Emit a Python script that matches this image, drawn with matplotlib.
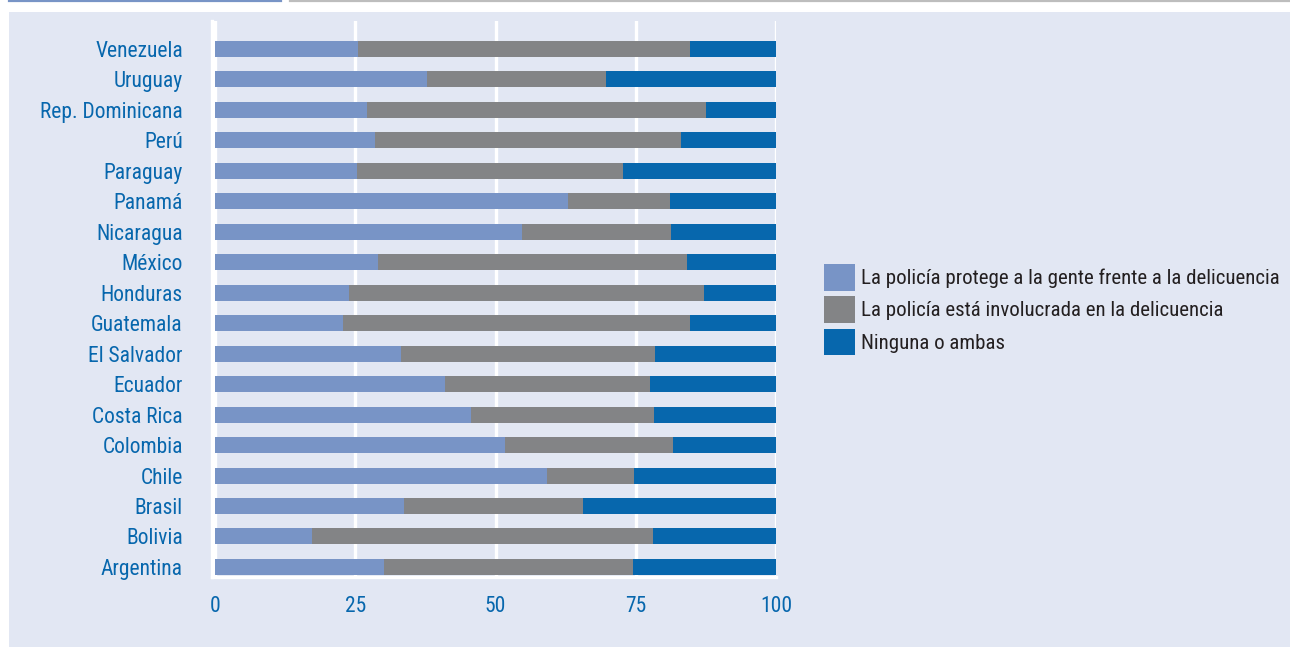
import matplotlib.pyplot as plt
from matplotlib import font_manager
from matplotlib.patches import Rectangle, Patch
from matplotlib.lines import Line2D

# pick a condensed face if one is installed
nombres = {f.name for f in font_manager.fontManager.ttflist}
fuente = 'DejaVu Sans'
for cand in ['Roboto Condensed', 'Liberation Sans Narrow', 'Archivo Narrow']:
    if cand in nombres:
        fuente = cand
        break
plt.rcParams['font.family'] = [fuente, 'DejaVu Sans']

# data (percent), bottom to top
paises = ['Argentina', 'Bolivia', 'Brasil', 'Chile', 'Colombia', 'Costa Rica',
          'Ecuador', 'El Salvador', 'Guatemala', 'Honduras', 'México',
          'Nicaragua', 'Panamá', 'Paraguay', 'Perú', 'Rep. Dominicana',
          'Uruguay', 'Venezuela']
protege = [30.1, 17.3, 33.7, 59.2, 51.7, 45.6, 41.0, 33.1, 22.8, 23.9, 29.1,
           54.7, 63.0, 25.3, 28.5, 27.1, 37.8, 25.5]
involucrada = [44.4, 60.8, 31.9, 15.5, 29.9, 32.6, 36.5, 45.3, 61.9, 63.3,
               55.1, 26.6, 18.1, 47.4, 54.6, 60.4, 31.9, 59.2]
ninguna = [100 - a - b for a, b in zip(protege, involucrada)]

series = ['La policía protege a la gente frente a la delicuencia',
          'La policía está involucrada en la delicuencia',
          'Ninguna o ambas']
colores = ['#7894C6', '#838486', '#0767AD']
xticks = [0, 25, 50, 75, 100]

W, H = 1290, 647
fig = plt.figure(figsize=(W / 100, H / 100), dpi=100, facecolor='white')

# lavender panel + top rule
fig.patches.append(Rectangle((9 / W, 0), 1 - 9 / W, 1 - 12 / H,
                             transform=fig.transFigure, facecolor='#E2E7F3',
                             edgecolor='none', zorder=-5))
fig.add_artist(Line2D([9 / W, 281 / W], [1 - 1 / H, 1 - 1 / H],
                      color='#7894C6', lw=1.6))
fig.add_artist(Line2D([290 / W, 1], [1 - 1 / H, 1 - 1 / H],
                      color='#BDBDBD', lw=1.6))

ax = fig.add_axes([212 / W, (H - 577) / H, (776 - 212) / W, (577 - 21) / H])
ax.patch.set_alpha(0)

pos = list(range(len(paises)))
left = [0] * len(paises)
for vals, col, lab in zip([protege, involucrada, ninguna], colores, series):
    ax.barh(pos, vals, left=left, height=0.525, color=col, label=lab,
            zorder=3)
    left = [l + v for l, v in zip(left, vals)]

ax.set_xlim(-0.55, 100)
ax.set_ylim(-0.33, 17.92)
ax.set_xticks(xticks)
ax.set_xticklabels([str(t) for t in xticks])
ax.set_yticks(pos)
ax.set_yticklabels(paises)
ax.grid(axis='x', color='white', lw=2.4, zorder=1)
ax.tick_params(length=0, colors='#0767AD', labelsize=15.5)
ax.tick_params(axis='y', pad=21)
ax.tick_params(axis='x', pad=14)
for s in ['top', 'right']:
    ax.spines[s].set_visible(False)
for s in ['left', 'bottom']:
    ax.spines[s].set_color('white')
    ax.spines[s].set_linewidth(2.4)

handles = [Patch(facecolor=c, edgecolor='none') for c in colores]
fs = 15
leg = fig.legend(handles, series, loc='upper left',
                 bbox_to_anchor=(824 / W, 1 - 264 / H), frameon=False,
                 fontsize=fs, borderpad=0, borderaxespad=0,
                 handlelength=31 / (fs * 100 / 72),
                 handleheight=33 / (fs * 100 / 72),
                 handletextpad=0.3, labelspacing=0.28)
for t in leg.get_texts():
    t.set_color('#231F20')

fig.savefig('out.png', dpi=100, facecolor='white')
